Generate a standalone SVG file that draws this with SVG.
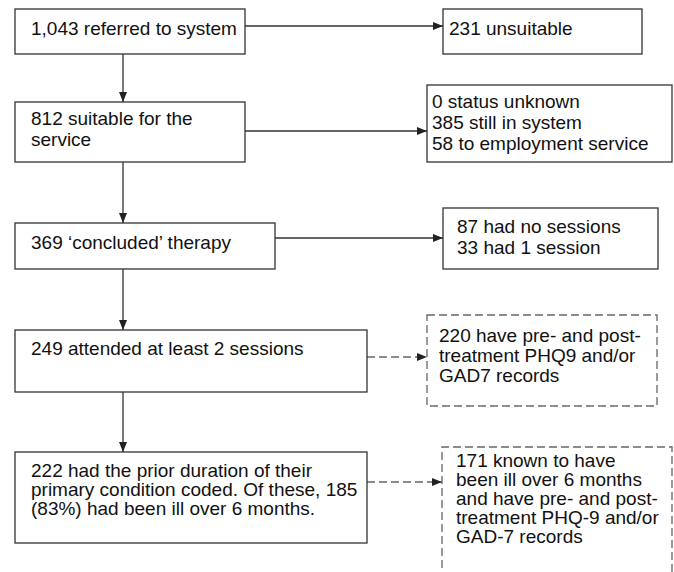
<svg xmlns="http://www.w3.org/2000/svg" width="674" height="572" viewBox="0 0 674 572">
<style>
  .box { fill: #fff; stroke: #333; stroke-width: 1.3; }
  .dbox { fill: #fff; stroke: #666; stroke-width: 1.3; stroke-dasharray: 8 4; }
  .ln { stroke: #333; stroke-width: 1.3; fill: none; }
  .dln { stroke: #666; stroke-width: 1.3; fill: none; stroke-dasharray: 8 4; }
  text { font-family: "Liberation Sans", Arial, sans-serif; font-size: 19px; fill: #111; }
</style>
<defs>
  <marker id="ah" viewBox="0 0 10 10" refX="10" refY="5" markerWidth="10" markerHeight="10" markerUnits="userSpaceOnUse" orient="auto">
    <path d="M0,1 L10,5 L0,9 Z" fill="#222"/>
  </marker>
</defs>
<rect width="674" height="572" fill="#fff"/>
<g id="connectors">
  <line class="ln" x1="245" y1="26" x2="443" y2="26" marker-end="url(#ah)"/>
  <line class="ln" x1="123" y1="54" x2="123" y2="102" marker-end="url(#ah)"/>
  <line class="ln" x1="245" y1="131" x2="427" y2="131" marker-end="url(#ah)"/>
  <line class="ln" x1="123" y1="162" x2="123" y2="223" marker-end="url(#ah)"/>
  <line class="ln" x1="275" y1="238" x2="443" y2="238" marker-end="url(#ah)"/>
  <line class="ln" x1="123" y1="269" x2="123" y2="330" marker-end="url(#ah)"/>
  <line class="dln" x1="367" y1="357" x2="427" y2="357" marker-end="url(#ah)"/>
  <line class="ln" x1="123" y1="392" x2="123" y2="452" marker-end="url(#ah)"/>
  <line class="dln" x1="367" y1="482" x2="442" y2="482" marker-end="url(#ah)"/>
</g>
<g id="n1"><rect class="box" x="15" y="9" width="230" height="45"/><text x="31" y="35">1,043 referred to system</text></g>
<g id="n2"><rect class="box" x="443" y="9" width="199" height="45"/><text x="449" y="35">231 unsuitable</text></g>
<g id="n3"><rect class="box" x="15" y="102" width="230" height="60"/><text x="31" y="125">812 suitable for the</text><text x="31" y="146">service</text></g>
<g id="n4"><rect class="box" x="427" y="85" width="245" height="77"/><text x="432" y="108">0 status unknown</text><text x="432" y="129">385 still in system</text><text x="432" y="150">58 to employment service</text></g>
<g id="n5"><rect class="box" x="15" y="223" width="260" height="46"/><text x="31" y="249">369 ‘concluded’ therapy</text></g>
<g id="n6"><rect class="box" x="443" y="208" width="215" height="61"/><text x="457" y="233">87 had no sessions</text><text x="457" y="254">33 had 1 session</text></g>
<g id="n7"><rect class="box" x="15" y="330" width="352" height="62"/><text x="31" y="355">249 attended at least 2 sessions</text></g>
<g id="n8"><rect class="dbox" x="427" y="315" width="230" height="91"/><text x="439" y="342">220 have pre- and post-</text><text x="439" y="362">treatment PHQ9 and/or</text><text x="439" y="382">GAD7 records</text></g>
<g id="n9"><rect class="box" x="15" y="452" width="352" height="91"/><text x="31" y="477">222 had the prior duration of their</text><text x="31" y="496">primary condition coded. Of these, 185</text><text x="31" y="515">(83%) had been ill over 6 months.</text></g>
<g id="n10"><path class="dbox" d="M442,580 L442,447 L672,447 L672,580"/><text x="456" y="467">171 known to have</text><text x="456" y="486">been ill over 6 months</text><text x="456" y="505">and have pre- and post-</text><text x="456" y="524">treatment PHQ-9 and/or</text><text x="456" y="543">GAD-7 records</text></g>
</svg>
